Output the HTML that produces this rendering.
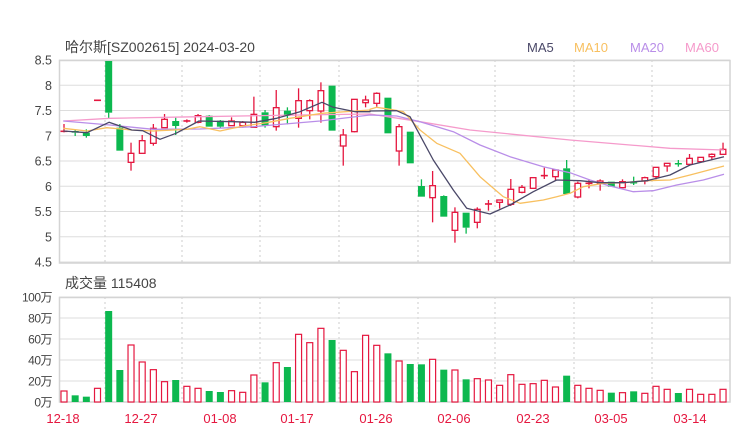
<!DOCTYPE html>
<html><head><meta charset="utf-8"><style>
html,body{margin:0;padding:0;background:#fff;width:740px;height:440px;overflow:hidden}
svg text{font-family:"Liberation Sans","Noto Sans CJK SC",sans-serif}
</style></head><body>
<svg id="s" width="740" height="440" xmlns="http://www.w3.org/2000/svg"></svg>
<script>
const R='#e5173f',G='#0cb84f';
let h='';
const Y=zy=>50+zy/3;
const X=i=>64+11.17*i;
const py=p=>60+(8.5-p)*50.5;
// grid price
for(let k=0;k<=8;k++){const y=60+k*25.25;h+=`<line x1="59" x2="730" y1="${y}" y2="${y}" stroke="#ddd" stroke-width="1"/>`;
h+=`<text x="52" y="${y+4.5}" font-size="12.5" fill="#444" text-anchor="end">${(8.5-k*0.5).toString()}</text>`;}
const vg=[105,182,260,339,418,495,574,652];
vg.forEach(x=>{h+=`<line x1="${x}" x2="${x}" y1="60" y2="263" stroke="#ccc" stroke-dasharray="2,3"/>`;h+=`<line x1="${x}" x2="${x}" y1="297" y2="402" stroke="#ccc" stroke-dasharray="2,3"/>`;});
h+=`<rect x="59.5" y="60.5" width="670.5" height="202.5" fill="none" stroke="#d4d4d4" stroke-width="1.5"/>`;
// volume grid
for(let k=0;k<=5;k++){const y=297+k*21;h+=`<line x1="59" x2="730" y1="${y}" y2="${y}" stroke="#ddd"/>`;
h+=`<text x="52" y="${y+4.5}" font-size="12" fill="#444" text-anchor="end" letter-spacing="-0.5">${(100-k*20)}万</text>`;}
h+=`<rect x="59.5" y="297.5" width="670.5" height="104.5" fill="none" stroke="#d4d4d4" stroke-width="1.5"/>`;
// candles: [color, bodyTop, bodyBot, wickTop, wickBot] in zoom y
const C=[
['r',243,247,222,248],['g',243,248,238,258],['g',248,258,238,263],['r',150,152,150,152],['g',33,188,33,205],
['g',233,302,222,302],['r',310,337,278,362],['r',272,310,255,310],['r',235,280,222,287],['r',208,233,192,233],
['g',213,228,203,255],['r',212,214,208,218],['r',197,217,192,220],['g',197,230,195,230],['g',212,230,210,235],
['r',213,227,202,227],['r',217,227,213,233],['r',193,232,140,232],['g',187,227,180,233],['r',173,230,120,242],
['g',182,197,172,223],['r',152,205,115,233],['r',152,182,148,208],['r',122,183,97,218],['g',107,242,107,242],
['r',255,288,237,347],['r',148,245,148,247],['r',150,158,137,172],['r',130,160,127,170],['g',143,250,143,250],
['r',230,303,222,347],['g',245,340,245,340],['g',408,440,388,440],['r',407,443,363,517],['g',438,500,436,500],
['r',487,541,472,578],['g',488,533,488,551],['r',478,517,472,535],['r',461,463,450,482],['r',450,457,450,476],
['r',418,463,387,468],['r',412,427,405,430],['r',383,415,383,415],['r',376,378,353,387],['r',360,380,360,392],
['g',355,432,330,432],['r',400,441,395,445],['r',399,401,388,415],['r',393,400,388,422],['g',395,410,395,410],
['r',395,413,388,413],['g',396,398,380,405],['r',383,393,380,403],['r',352,380,352,388],['r',340,348,340,365],
['g',339,341,330,350],['r',325,343,312,347],['r',322,335,322,335],['r',313,320,310,330],['r',298,313,278,313]];
C.forEach((c,i)=>{const x=X(i),col=c[0]=='r'?R:G;
const bt=Y(c[1]),bb=Y(c[2]),wt=Y(c[3]),wb=Y(c[4]);
h+=`<line x1="${x}" x2="${x}" y1="${wt}" y2="${bt}" stroke="${col}" stroke-width="1.3"/><line x1="${x}" x2="${x}" y1="${bb}" y2="${wb}" stroke="${col}" stroke-width="1.3"/>`;
if(c[0]=='g')h+=`<rect x="${x-3.5}" y="${bt}" width="7" height="${Math.max(1.5,bb-bt)}" fill="${G}"/>`;
else if(bb-bt<2)h+=`<rect x="${x-3.5}" y="${bt-0.5}" width="7" height="1.6" fill="${R}"/>`;
else h+=`<rect x="${x-2.8}" y="${bt}" width="5.6" height="${bb-bt}" fill="#fff" stroke="${R}" stroke-width="1.3"/>`;});
// MAs
function line(a,b,col){let p=a.map(q=>[q[0]/3,Y(q[1])]).concat(b.map(q=>[370+q[0]/3,Y(q[1])]));
h+=`<polyline points="${p.map(q=>q[0].toFixed(1)+','+q[1].toFixed(1)).join(' ')}" fill="none" stroke="${col}" stroke-width="1.3" stroke-linejoin="round"/>`;}
line([[190,213],[330,205],[600,200],[900,195],[1110,192]],[[0,192],[150,215],[300,240],[600,270],[900,295],[1062,300]],'#f59acb');
line([[190,213],[330,225],[460,238],[600,237],[760,230],[960,213],[1110,195]],[[0,195],[80,198],[150,215],[250,245],[330,285],[420,320],[520,350],[600,368],[660,390],[720,408],[790,425],[850,422],[920,405],[1000,390],[1062,373]],'#b98ee8');
line([[190,235],[261,243],[320,233],[395,240],[460,243],[560,238],[600,230],[660,243],[730,228],[800,218],[870,205],[966,190],[1110,180]],[[0,178],[20,172],[60,178],[100,185],[150,240],[200,280],[270,310],[330,380],[400,440],[450,460],[520,450],[560,440],[600,430],[640,410],[700,400],[760,398],[830,392],[900,390],[960,375],[1062,348]],'#f8c060');
line([[190,243],[261,248],[327,217],[395,240],[428,242],[480,268],[528,250],[597,213],[700,215],[764,217],[830,205],[900,185],[966,157],[1000,172],[1066,185],[1110,185]],[[0,183],[80,182],[120,200],[190,330],[250,420],[290,475],[360,492],[420,465],[490,425],[560,390],[630,392],[690,398],[760,398],[830,392],[900,375],[960,345],[1062,320]],'#4a4868');
// volume
const V=[333,346,350,325,93,270,195,246,269,305,300,319,325,333,336,332,337,285,307,248,261,163,188,145,180,211,275,166,196,220,243,252,253,238,269,270,298,296,300,316,284,313,311,301,321,287,316,325,331,338,338,334,340,319,328,339,328,343,343,328];
V.forEach((v,i)=>{const x=X(i),t=280+v/3,g=C[i][0]=='g';
if(g)h+=`<rect x="${x-3.5}" y="${t}" width="7" height="${402-t}" fill="${G}"/>`;
else h+=`<rect x="${x-3}" y="${t}" width="6" height="${402-t}" fill="#fff" stroke="${R}" stroke-width="1.2"/>`;});
// dates
[['12-18',63],['12-27',141],['01-08',220],['01-17',297],['01-26',376],['02-06',454],['02-23',533],['03-05',611],['03-14',690]].forEach(d=>{
h+=`<text x="${d[1]}" y="423" font-size="13" fill="${R}" text-anchor="middle">${d[0]}</text>`;});
h+=`<text x="65" y="52" font-size="14" fill="#444">哈尔斯[SZ002615] 2024-03-20</text>`;
h+=`<text x="65" y="288" font-size="14" fill="#444">成交量 115408</text>`;
h+=`<text x="527" y="52" font-size="13" fill="#4a4868">MA5</text><text x="574" y="52" font-size="13" fill="#f8c060">MA10</text><text x="630" y="52" font-size="13" fill="#b98ee8">MA20</text><text x="685" y="52" font-size="13" fill="#f59acb">MA60</text>`;
document.getElementById('s').innerHTML=h;
</script>
</body></html>
